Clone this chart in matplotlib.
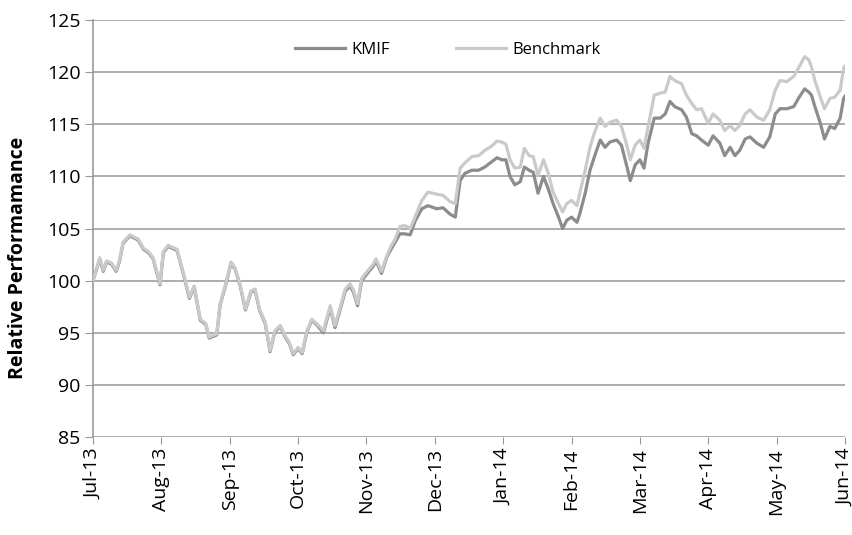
import matplotlib
matplotlib.use("Agg")
import matplotlib.pyplot as plt

# -----------------------------
# Datos (posición en meses desde Jul-13)
# -----------------------------
months = [0.00, 0.10, 0.15, 0.20, 0.27, 0.34, 0.39, 0.44, 0.54, 0.66,
          0.74, 0.81, 0.88, 0.98, 1.03, 1.10, 1.23, 1.32, 1.41, 1.48,
          1.57, 1.65, 1.70, 1.81, 1.86, 1.93, 2.02, 2.08, 2.15, 2.23,
          2.31, 2.37, 2.44, 2.52, 2.59, 2.66, 2.74, 2.82, 2.87, 2.93,
          3.00, 3.06, 3.13, 3.20, 3.27, 3.37, 3.47, 3.54, 3.61, 3.69,
          3.76, 3.81, 3.87, 3.93, 4.00, 4.10, 4.14, 4.22, 4.30, 4.35,
          4.42, 4.49, 4.56, 4.64, 4.71, 4.81, 4.90, 5.03, 5.12, 5.22,
          5.30, 5.37, 5.44, 5.54, 5.64, 5.73, 5.83, 5.91, 5.98, 6.04,
          6.10, 6.17, 6.25, 6.31, 6.38, 6.44, 6.51, 6.59, 6.66, 6.73,
          6.81, 6.87, 6.93, 7.00, 7.08, 7.12, 7.20, 7.27, 7.34, 7.42,
          7.49, 7.56, 7.66, 7.73, 7.80, 7.86, 7.93, 8.00, 8.06, 8.12,
          8.21, 8.30, 8.37, 8.44, 8.51, 8.61, 8.68, 8.76, 8.83, 8.90,
          9.00, 9.07, 9.17, 9.24, 9.32, 9.39, 9.46, 9.54, 9.61, 9.71,
          9.81, 9.90, 9.98, 10.05, 10.15, 10.25, 10.32, 10.41, 10.47, 10.51,
          10.56, 10.64, 10.70, 10.78, 10.85, 10.93, 10.98, 11.00]

benchmark = [100.0, 102.2, 101.0, 101.9, 101.7, 101.0, 102.0, 103.7, 104.4, 104.0,
             103.1, 102.8, 102.2, 99.7, 102.8, 103.4, 103.0, 100.8, 98.4, 99.5,
             96.3, 95.9, 94.6, 94.9, 97.8, 99.4, 101.8, 101.2, 99.7, 97.3,
             99.0, 99.2, 97.2, 96.0, 93.3, 95.2, 95.7, 94.6, 94.1, 93.0,
             93.6, 93.1, 95.2, 96.3, 95.9, 95.2, 97.6, 95.7, 97.3, 99.2,
             99.7, 99.1, 97.8, 100.2, 100.8, 101.6, 102.1, 100.9, 102.4, 103.2,
             104.0, 105.2, 105.3, 105.0, 106.1, 107.7, 108.5, 108.3, 108.2, 107.6,
             107.4, 110.8, 111.3, 111.9, 112.0, 112.5, 112.9, 113.4, 113.3, 113.1,
             111.6, 110.8, 110.9, 112.7, 112.0, 111.9, 110.1, 111.6, 110.3, 108.5,
             107.4, 106.6, 107.4, 107.7, 107.2, 108.4, 110.6, 112.8, 114.3, 115.6,
             114.8, 115.2, 115.4, 114.8, 113.2, 111.6, 113.0, 113.5, 112.7, 114.8,
             117.8, 118.0, 118.1, 119.6, 119.2, 118.9, 117.8, 117.0, 116.4, 116.5,
             115.1, 116.0, 115.4, 114.4, 114.9, 114.4, 114.9, 116.0, 116.4, 115.7,
             115.4, 116.4, 118.3, 119.2, 119.1, 119.6, 120.4, 121.5, 121.2, 120.5,
             119.2, 117.6, 116.5, 117.5, 117.6, 118.3, 120.4, 120.6]

kmif = [100.0, 102.1, 100.9, 101.8, 101.6, 100.9, 101.9, 103.6, 104.3, 103.9,
        103.0, 102.7, 102.1, 99.6, 102.7, 103.3, 102.9, 100.7, 98.3, 99.4,
        96.2, 95.8, 94.5, 94.8, 97.7, 99.3, 101.7, 101.1, 99.6, 97.2,
        98.9, 99.1, 97.1, 95.9, 93.2, 95.1, 95.6, 94.5, 94.0, 92.9,
        93.5, 93.0, 95.1, 96.2, 95.8, 95.0, 97.4, 95.5, 97.1, 99.0,
        99.5, 98.9, 97.6, 100.0, 100.6, 101.4, 101.9, 100.7, 102.3, 102.9,
        103.7, 104.5, 104.5, 104.4, 105.7, 106.9, 107.2, 106.9, 107.0, 106.4,
        106.1, 109.6, 110.3, 110.6, 110.6, 110.9, 111.4, 111.8, 111.6, 111.6,
        110.0, 109.2, 109.5, 110.9, 110.6, 110.4, 108.4, 110.0, 108.8, 107.4,
        106.1, 105.0, 105.8, 106.1, 105.6, 106.4, 108.4, 110.6, 112.0, 113.5,
        112.8, 113.3, 113.5, 113.0, 111.2, 109.6, 111.1, 111.6, 110.8, 113.2,
        115.6, 115.6, 116.0, 117.2, 116.7, 116.4, 115.7, 114.1, 113.9, 113.5,
        113.0, 113.9, 113.2, 112.0, 112.8, 112.0, 112.5, 113.6, 113.8, 113.2,
        112.8, 113.8, 116.0, 116.5, 116.5, 116.7, 117.5, 118.4, 118.1, 117.8,
        116.7, 115.1, 113.6, 114.8, 114.6, 115.6, 117.5, 117.7]

tick_labels = ["Jul-13", "Aug-13", "Sep-13", "Oct-13", "Nov-13", "Dec-13",
               "Jan-14", "Feb-14", "Mar-14", "Apr-14", "May-14", "Jun-14"]
y_ticks = [85, 90, 95, 100, 105, 110, 115, 120, 125]

# -----------------------------
# Gráfica
# -----------------------------
plt.rcParams['font.family'] = ['Open Sans', 'DejaVu Sans']

fig = plt.figure(figsize=(8.53, 5.35), dpi=100)
ax = fig.add_axes([0.109, 0.183, 0.8816, 0.7794])

ax.plot(months, kmif, color='#8c8c8c', lw=2.3, label='KMIF', zorder=3)
ax.plot(months, benchmark, color='#cacaca', lw=2.3, label='Benchmark', zorder=4)

ax.set_xlim(0, 11)
ax.set_ylim(85, 125)
ax.set_yticks(y_ticks)
ax.set_xticks(range(len(tick_labels)))
ax.set_xticklabels(tick_labels, rotation=90, fontsize=14)
ax.tick_params(axis='y', labelsize=14, length=6, color='#999999', direction='out', pad=3)
ax.tick_params(axis='x', length=5, color='#999999', direction='out', pad=3)

ax.yaxis.grid(True, color='#a0a0a0', lw=1.2)
ax.set_axisbelow(True)
for s in ['top', 'right', 'bottom']:
    ax.spines[s].set_visible(False)
ax.spines['left'].set_color('#999999')
ax.spines['left'].set_linewidth(1.2)

ax.set_ylabel("Relative Performamance", fontsize=14, fontweight='bold')
ax.yaxis.set_label_coords(-0.086, 0.43)

ax.legend(loc='center left', bbox_to_anchor=(0.269, 0.928), ncol=2, frameon=False,
          fontsize=12, handlelength=3.0, handletextpad=0.35, columnspacing=4.0,
          borderpad=0, borderaxespad=0)

fig.savefig("out.png", dpi=100)
plt.close(fig)
